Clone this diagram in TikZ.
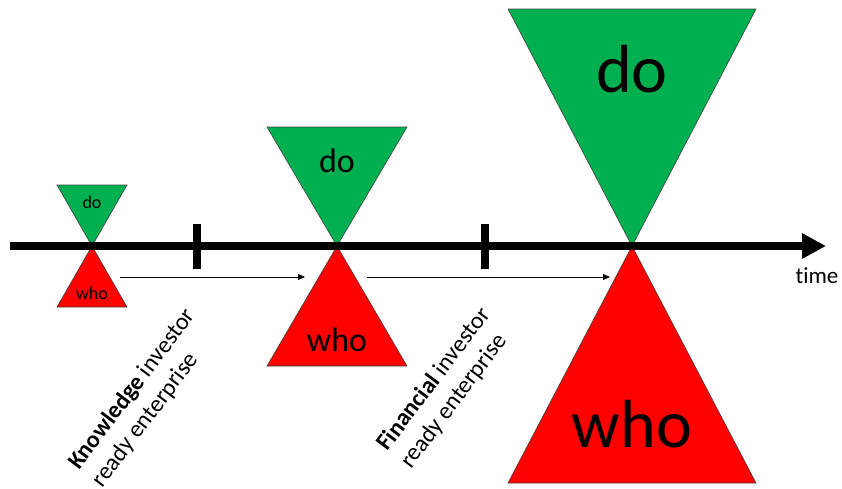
\documentclass[tikz,border=0pt]{standalone}
\usepackage{fontspec}
\setmainfont{Carlito}[Ligatures={NoCommon}]
\usetikzlibrary{arrows.meta}
\definecolor{dogreen}{HTML}{00B050}
\definecolor{whored}{HTML}{FF0000}
\begin{document}
\begin{tikzpicture}[x=1pt,y=-1pt,
  dotri/.style={fill=dogreen, draw=black!75, line width=0.6pt},
  whotri/.style={fill=whored, draw=black!75, line width=0.6pt},
  timeaxis/.style={line width=8pt, -{Triangle[length=24pt,width=24pt]}},
  tickmark/.style={line width=8pt},
  stagearrow/.style={line width=1pt, -{Triangle[length=7pt,width=6pt]}},
  lbl/.style={inner sep=0pt, text=black},
  stage/.style={inner sep=0pt, align=left, rotate=53, font=\fontsize{24}{29}\selectfont}]
  \useasboundingbox (0,0) rectangle (842,488);

  % hourglass centres on the time line
  \coordinate (c1) at (92,246);
  \coordinate (c2) at (337,246);
  \coordinate (c3) at (632,246);

  % small hourglass
  \draw[dotri]  (c1) -- ++(-35,-61) -- ++(70,0) -- cycle;
  \draw[whotri] (c1) -- ++(-35,61) -- ++(70,0) -- cycle;
  \node[lbl, font=\fontsize{18}{20}\selectfont] (do1) at (92,202) {do};
  \node[lbl, font=\fontsize{18}{20}\selectfont] (who1) at (92,293) {who};

  % medium hourglass
  \draw[dotri]  (c2) -- ++(-70,-119) -- ++(140,0) -- cycle;
  \draw[whotri] (c2) -- ++(-70,120) -- ++(140,0) -- cycle;
  \node[lbl, font=\fontsize{34}{38}\selectfont] (do2) at (337,161) {do};
  \node[lbl, font=\fontsize{34}{38}\selectfont] (who2) at (337,340) {who};

  % large hourglass
  \draw[dotri]  (c3) -- ++(-124,-237) -- ++(248,0) -- cycle;
  \draw[whotri] (c3) -- ++(-124,237) -- ++(248,0) -- cycle;
  \node[lbl, font=\fontsize{68}{72}\selectfont] (do3) at (632,69) {do};
  \node[lbl, font=\fontsize{68}{72}\selectfont] (who3) at (632,424) {who};

  % time line with its two milestones
  \coordinate (tstart) at (10,246);
  \coordinate (tend) at (826,246);
  \draw[timeaxis] (tstart) -- (tend);
  \coordinate (k1) at (197,224); \coordinate (k2) at (197,269);
  \coordinate (f1) at (485,224); \coordinate (f2) at (485,269);
  \draw[tickmark] (k1) -- (k2);
  \draw[tickmark] (f1) -- (f2);
  \node[lbl, font=\fontsize{23}{27}\selectfont] (time) at (817,276) {time};

  % growth arrows between the stages
  \coordinate (a1s) at (120,277); \coordinate (a1e) at (305,277);
  \coordinate (a2s) at (367,277); \coordinate (a2e) at (610,277);
  \draw[stagearrow] (a1s) -- (a1e);
  \draw[stagearrow] (a2s) -- (a2e);

  % milestone captions
  \node[stage] (know) at (144,398) {\textbf{Knowledge} investor\\ready enterprise};
  \node[stage] (fin) at (446,388) {\textbf{Financial} investor\\ready enterprise};
\end{tikzpicture}
\end{document}
